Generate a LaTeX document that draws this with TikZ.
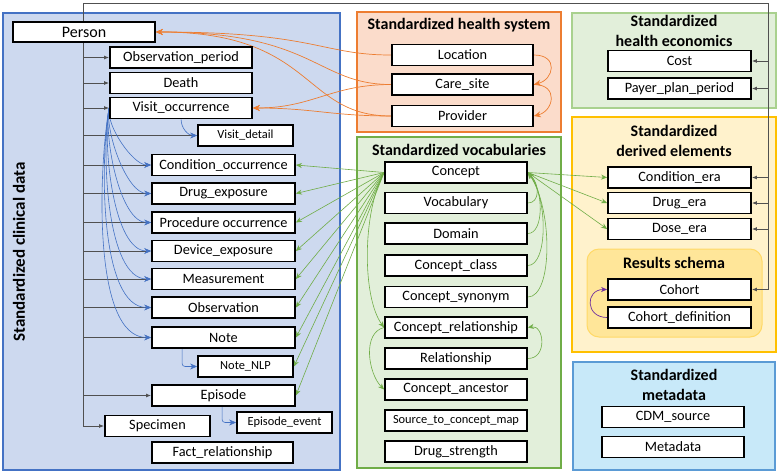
\documentclass[tikz,border=0pt]{standalone}
\usepackage{fontspec}
\setmainfont{Carlito}
\usetikzlibrary{arrows.meta}
\pgfdeclarelayer{bg}\pgfdeclarelayer{fg}
\pgfsetlayers{bg,main,fg}
\definecolor{clinFill}{HTML}{CDD9EF}
\definecolor{clinLine}{HTML}{4472C4}
\definecolor{hsFill}{HTML}{FBDCCB}
\definecolor{hsLine}{HTML}{ED7D31}
\definecolor{vocFill}{HTML}{E2EFDA}
\definecolor{vocLine}{HTML}{70AD47}
\definecolor{ecoLine}{HTML}{A9D18E}
\definecolor{derFill}{HTML}{FFF2CC}
\definecolor{derLine}{HTML}{FFC000}
\definecolor{resFill}{HTML}{FFE699}
\definecolor{resLine}{HTML}{FFD966}
\definecolor{metaFill}{HTML}{C8E9F9}
\definecolor{metaLine}{HTML}{5B9BD5}
\definecolor{connGray}{HTML}{505050}
\definecolor{purp}{HTML}{7030A0}
\begin{document}
\begin{tikzpicture}[x=1pt,y=-1pt,
  box/.style={draw=black, line width=1.8pt, fill=white, minimum height=21pt, inner sep=0pt, font=\fontsize{14.3}{15}\selectfont},
  sbox/.style={box, font=\fontsize{12.4}{13}\selectfont},
  ttl/.style={font=\fontsize{16}{20}\selectfont\bfseries, align=center, inner sep=0pt},
  panel/.style={line width=1.8pt},
  gline/.style={draw=connGray, line width=0.9pt},
  garr/.style={gline, -{Latex[length=5pt,width=4pt]}},
  oarr/.style={draw=hsLine, line width=0.7pt, -{Stealth[length=7pt,width=6pt]}},
  grarr/.style={draw=vocLine, line width=0.6pt, -{Stealth[length=6pt,width=5pt]}},
  barr/.style={draw=clinLine, line width=0.6pt, -{Stealth[length=7pt,width=6pt]}},
  parr/.style={draw=purp, line width=0.7pt, -{Stealth[length=6pt,width=5pt]}}]
\useasboundingbox (0,0) rectangle (780,475);
\begin{pgfonlayer}{bg}
\fill[white] (0,0) rectangle (780,475);
\draw[panel, draw=clinLine, fill=clinFill] (3,13) rectangle (340,470);
\draw[panel, draw=hsLine, fill=hsFill] (357,12) rectangle (561,132);
\draw[panel, draw=vocLine, fill=vocFill] (357,137) rectangle (561,468);
\draw[panel, draw=ecoLine, fill=vocFill] (572,13) rectangle (776,108);
\draw[panel, draw=derLine, fill=derFill] (572,117) rectangle (776,352);
\draw[panel, line width=1pt, draw=resLine, fill=resFill, rounded corners=12pt] (587,249) rectangle (762,337);
\draw[panel, draw=metaLine, fill=metaFill] (573,362) rectangle (775,470);
\end{pgfonlayer}

\begin{pgfonlayer}{fg}
% titles
\node[ttl, rotate=90, font=\fontsize{17}{19}\selectfont\bfseries] (tclin) at (19,252) {Standardized clinical data};
\node[ttl] (ths) at (459,25) {Standardized health system};
\node[ttl] (tvoc) at (459,150) {Standardized vocabularies};
\node[ttl] (teco) at (674,31) {Standardized\\health economics};
\node[ttl] (tder) at (674,141) {Standardized\\derived elements};
\node[ttl] (tres) at (674,263) {Results schema};
\node[ttl] (tmeta) at (674,385) {Standardized\\metadata};
% clinical
\node[box, minimum width=142pt, minimum height=20pt, font=\fontsize{16}{17}\selectfont] (person) at (84,32) {Person};
\node[box, minimum width=142pt] (obsp) at (181,57.5) {Observation\_period};
\node[box, minimum width=142pt] (death) at (181,83) {Death};
\node[box, minimum width=142pt] (visit) at (181,108) {Visit\_occurrence};
\node[sbox, minimum width=95pt] (vdetail) at (245.5,135.5) {Visit\_detail};
\node[box, minimum width=143pt] (cond) at (223.5,165) {Condition\_occurrence};
\node[box, minimum width=143pt] (drug) at (223.5,193.5) {Drug\_exposure};
\node[box, minimum width=143pt] (proc) at (223.5,222.5) {Procedure occurrence};
\node[box, minimum width=143pt] (device) at (223.5,251) {Device\_exposure};
\node[box, minimum width=143pt] (meas) at (223.5,279) {Measurement};
\node[box, minimum width=143pt] (obs) at (223.5,307.5) {Observation};
\node[box, minimum width=143pt] (note) at (223.5,337.5) {Note};
\node[sbox, minimum width=95pt] (notenlp) at (245.5,366.5) {Note\_NLP};
\node[box, minimum width=143pt] (episode) at (223.5,395.5) {Episode};
\node[box, minimum width=105pt] (specimen) at (157.5,426) {Specimen};
\node[sbox, minimum width=95pt] (epevent) at (284.5,422.5) {Episode\_event};
\node[box, minimum width=141pt] (fact) at (222.5,452.5) {Fact\_relationship};
% health system
\node[box, minimum width=141pt] (location) at (462.5,55) {Location};
\node[box, minimum width=141pt] (caresite) at (462.5,84.5) {Care\_site};
\node[box, minimum width=141pt] (provider) at (462.5,116) {Provider};
% vocabularies
\node[box, minimum width=142pt] (concept) at (456,172.5) {Concept};
\node[box, minimum width=142pt] (vocab) at (456,203) {Vocabulary};
\node[box, minimum width=142pt] (domain) at (456,233.5) {Domain};
\node[box, minimum width=142pt] (cclass) at (456,265.5) {Concept\_class};
\node[box, minimum width=142pt] (csyn) at (456,297) {Concept\_synonym};
\node[box, minimum width=142pt] (crel) at (456,327.5) {Concept\_relationship};
\node[box, minimum width=142pt] (rel) at (456,358.5) {Relationship};
\node[box, minimum width=142pt] (canc) at (456,389.5) {Concept\_ancestor};
\node[sbox, minimum width=142pt] (stcm) at (456,420.5) {Source\_to\_concept\_map};
\node[box, minimum width=142pt] (dstr) at (456,451.5) {Drug\_strength};
% economics
\node[box, minimum width=143pt] (cost) at (679.5,61) {Cost};
\node[box, minimum width=143pt] (payer) at (679.5,88.5) {Payer\_plan\_period};
% derived
\node[box, minimum width=143pt] (condera) at (679.5,177.5) {Condition\_era};
\node[box, minimum width=143pt] (drugera) at (679.5,203) {Drug\_era};
\node[box, minimum width=143pt] (doseera) at (679.5,229) {Dose\_era};
\node[box, minimum width=143pt] (cohort) at (679.5,289.5) {Cohort};
\node[box, minimum width=143pt] (cohortdef) at (679.5,317.5) {Cohort\_definition};
% metadata
\node[box, minimum width=142pt] (cdmsrc) at (673,417) {CDM\_source};
\node[box, minimum width=142pt] (metadata) at (673,447) {Metadata};
\end{pgfonlayer}

% gray person links
\coordinate (tl) at (83,3);
\coordinate (tr) at (768,3);
\draw[gline] (tl) -- (tr);
\foreach \n in {obsp,death,visit,vdetail,cond,drug,proc,device,meas,obs,note,episode,specimen}
  \draw[garr] (tl) |- (\n.west);
\foreach \n in {cost,payer,condera,drugera,doseera,cohort}
  \draw[garr] (tr) |- (\n.east);

% orange
\draw[oarr] (location.west) .. controls +(-70,0) and +(160,0) .. (person.east);
\draw[oarr] (caresite.west) .. controls +(-75,0) and +(160,0) .. (person.east);
\draw[oarr] (provider.west) .. controls +(-90,0) and +(160,0) .. (person.east);
\draw[oarr] (caresite.west) .. controls +(-60,0) and +(60,0) .. (visit.east);
\draw[oarr] (provider.west) .. controls +(-60,0) and +(60,0) .. (visit.east);
\draw[oarr] (location.east) .. controls +(25,0) and +(20,-5) .. (caresite.east);
\draw[oarr] (caresite.east) .. controls +(25,0) and +(20,-5) .. (provider.east);

% green
\foreach \n in {cond,drug,proc,device,meas,obs,note,notenlp,episode}
  \draw[grarr] (concept.west) -- (\n.east);
\foreach \n in {condera,drugera,doseera}
  \draw[grarr] (concept.east) -- (\n.west);
\draw[grarr] (vocab.east) .. controls +(12,0) and +(12,12) .. (concept.east);
\draw[grarr] (domain.east) .. controls +(16,0) and +(16,18) .. (concept.east);
\draw[grarr] (cclass.east) .. controls +(20,0) and +(20,26) .. (concept.east);
\draw[grarr] (csyn.east) .. controls +(25,0) and +(25,36) .. (concept.east);
\draw[grarr] (rel.east) .. controls +(20,0) and +(16,-3) .. (crel.east);
\draw[grarr] (concept.west) .. controls +(-22,40) and +(-22,-30) .. (crel.west);
\draw[grarr] (crel.west) .. controls +(-22,5) and +(-16,-16) .. (canc.west);

% blue
\foreach \n in {cond,drug,proc,device,meas,obs,note}
  \draw[barr] (visit.west) to[out=-100,in=180,looseness=0.65] (\n.west);
\draw[barr] (visit.south west) ++(72,0) to[out=-90,in=180] (vdetail.west);
\draw[barr, rounded corners=3pt] (note.south west) ++(31,0) |- (notenlp.west);
\draw[barr, rounded corners=3pt] (episode.south west) ++(71,0) |- (epevent.west);

% purple
\draw[parr] (cohortdef.west) .. controls +(-22,0) and +(-22,0) .. (cohort.west);
\end{tikzpicture}
\end{document}
